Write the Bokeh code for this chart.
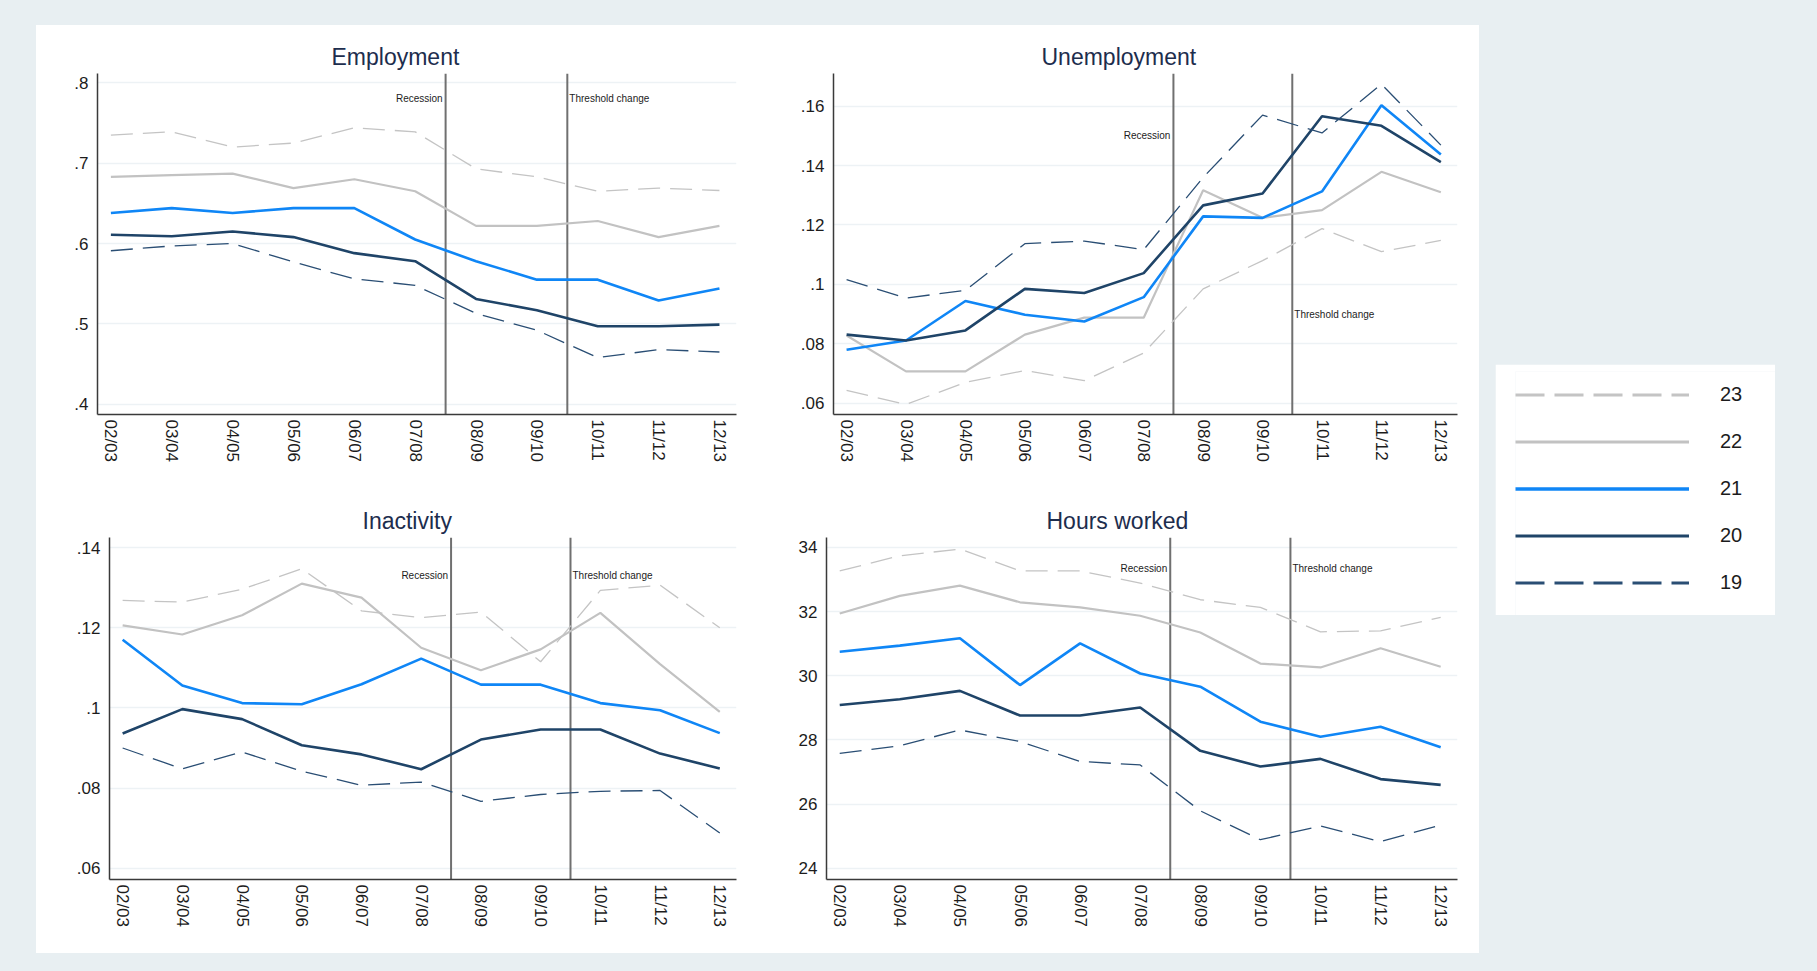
from bokeh.plotting import figure
from bokeh.layouts import column, row
from bokeh.models import (Range1d, FixedTicker, CustomJSTickFormatter, Span, Label,
                          Legend, LegendItem, Spacer)
from bokeh.embed import file_html
from bokeh.resources import INLINE

# ---------------------------------------------------------------- data
years = ["02/03", "03/04", "04/05", "05/06", "06/07", "07/08",
         "08/09", "09/10", "10/11", "11/12", "12/13"]
ages = ["23", "22", "21", "20", "19"]

# events drawn as vertical markers, placed between two survey years
recession_after = "07/08"
threshold_after = "09/10"

emp_23 = [.735, .739, .720, .725, .744, .739, .693, .683, .665, .669, .666]
emp_22 = [.683, .685, .687, .669, .680, .665, .622, .622, .628, .608, .622]
emp_21 = [.638, .644, .638, .644, .644, .605, .578, .555, .555, .529, .544]
emp_20 = [.611, .609, .615, .608, .588, .578, .531, .517, .497, .497, .499]
emp_19 = [.591, .597, .600, .577, .556, .548, .513, .492, .458, .468, .465]

unemp_23 = [.0643, .0596, .0670, .0710, .0676, .0769, .0985, .1080, .1188, .1110, .1148]
unemp_22 = [.0828, .0707, .0707, .0831, .0888, .0888, .1317, .1224, .1250, .1379, .1310]
unemp_21 = [.0780, .0811, .0944, .0898, .0875, .0957, .1229, .1224, .1313, .1603, .1437]
unemp_20 = [.0831, .0811, .0845, .0985, .0971, .1038, .1266, .1306, .1566, .1534, .1412]
unemp_19 = [.1016, .0954, .0980, .1137, .1146, .1117, .1360, .1570, .1510, .1674, .1469]

inact_23 = [.1268, .1264, .1296, .1347, .1242, .1225, .1239, .1115, .1293, .1306, .1200]
inact_22 = [.1206, .1183, .1231, .1310, .1275, .1150, .1094, .1146, .1237, .1109, .0990]
inact_21 = [.1170, .1056, .1012, .1009, .1059, .1123, .1058, .1058, .1012, .0994, .0937]
inact_20 = [.0936, .0997, .0972, .0907, .0884, .0847, .0921, .0946, .0946, .0886, .0849]
inact_19 = [.0900, .0848, .0890, .0842, .0807, .0815, .0767, .0784, .0792, .0794, .0688]

hours_23 = [33.27, 33.74, 33.95, 33.27, 33.27, 32.89, 32.37, 32.13, 31.37, 31.40, 31.82]
hours_22 = [31.94, 32.49, 32.81, 32.29, 32.13, 31.87, 31.35, 30.38, 30.26, 30.86, 30.28]
hours_21 = [30.75, 30.94, 31.17, 29.71, 31.01, 30.07, 29.66, 28.57, 28.10, 28.41, 27.77]
hours_20 = [29.09, 29.27, 29.53, 28.76, 28.76, 29.01, 27.66, 27.17, 27.41, 26.78, 26.60]
hours_19 = [27.58, 27.82, 28.31, 27.95, 27.33, 27.22, 25.79, 24.89, 25.32, 24.83, 25.35]

emp_ticks = [.4, .5, .6, .7, .8]
unemp_ticks = [.06, .08, .10, .12, .14, .16]
inact_ticks = [.06, .08, .10, .12, .14]
hours_ticks = [24, 26, 28, 30, 32, 34]

# ---------------------------------------------------------------- styles
BG = "#e8eff2"
FONT = "Liberation Sans"
TEXT = "#1c1c1c"
TITLE = "#1d2d4d"
GRID = "#edf2f5"

line_style = {
    "23": dict(line_color="#c4c4c4", line_width=1.3, line_dash="22 10"),
    "22": dict(line_color="#c2c2c2", line_width=2.2, line_dash="solid"),
    "21": dict(line_color="#0f86f6", line_width=2.6, line_dash="solid"),
    "20": dict(line_color="#1f4468", line_width=2.6, line_dash="solid"),
    "19": dict(line_color="#2a4e74", line_width=1.3, line_dash="22 10"),
}
legend_style = {
    "23": dict(line_color="#c4c4c4", line_width=3, line_dash="29 10"),
    "22": dict(line_color="#c2c2c2", line_width=3, line_dash="solid"),
    "21": dict(line_color="#0f86f6", line_width=3.5, line_dash="solid"),
    "20": dict(line_color="#1f4468", line_width=3, line_dash="solid"),
    "19": dict(line_color="#2a4e74", line_width=3, line_dash="29 10"),
}

x = list(range(len(years)))
x_rec = years.index(recession_after) + 0.5
x_thr = years.index(threshold_after) + 0.5

tick_fmt = CustomJSTickFormatter(code="""
    var s = String(Math.round(tick * 10000) / 10000);
    return s.replace(/^0\\./, '.');
""")


def make_panel(title, series, y_range, ticks, size, borders, title_offset, note_y):
    w, h = size
    left, top, right, bottom = borders
    p = figure(width=w, height=h, tools="", toolbar_location=None,
               output_backend="svg",
               x_range=Range1d(-0.22, 10.28), y_range=Range1d(*y_range),
               min_border_left=left, min_border_top=top,
               min_border_right=right, min_border_bottom=bottom,
               background_fill_color="white", border_fill_color="white",
               outline_line_color=None)

    p.title.text = title
    p.title.align = "left"
    p.title.offset = title_offset
    p.title.text_font = FONT
    p.title.text_font_size = "23px"
    p.title.text_font_style = "normal"
    p.title.text_color = TITLE
    p.title.standoff = 8

    # recession / threshold markers
    for xs in (x_rec, x_thr):
        p.add_layout(Span(location=xs, dimension="height", line_color="#707070",
                          line_width=2, level="underlay"))

    for age, ys in zip(ages, series):
        p.line(x, ys, **line_style[age])

    y_rec, y_thr = note_y
    p.add_layout(Label(x=x_rec, y=y_rec, text="Recession", text_align="right",
                       text_baseline="middle", x_offset=-3, text_font=FONT,
                       text_font_size="10px", text_color=TEXT))
    p.add_layout(Label(x=x_thr, y=y_thr, text="Threshold change", text_align="left",
                       text_baseline="middle", x_offset=2, text_font=FONT,
                       text_font_size="10px", text_color=TEXT))

    p.xgrid.visible = False
    p.ygrid.grid_line_color = GRID
    p.ygrid.grid_line_width = 1.5
    p.ygrid.ticker = FixedTicker(ticks=ticks)

    xa = p.xaxis[0]
    xa.ticker = FixedTicker(ticks=x)
    xa.major_label_overrides = {i: lab for i, lab in zip(x, years)}
    xa.major_label_orientation = "vertical"
    xa.major_label_standoff = 5
    ya = p.yaxis[0]
    ya.ticker = FixedTicker(ticks=ticks)
    ya.formatter = tick_fmt
    ya.major_label_standoff = 9
    for ax in (xa, ya):
        ax.major_tick_line_color = None
        ax.minor_tick_line_color = None
        ax.major_tick_in = 0
        ax.major_tick_out = 0
        ax.minor_tick_out = 0
        ax.axis_line_color = "#3a3a3a"
        ax.axis_line_width = 1.5
        ax.major_label_text_font = FONT
        ax.major_label_text_font_size = "17px"
        ax.major_label_text_color = TEXT
    return p


emp_series = [emp_23, emp_22, emp_21, emp_20, emp_19]
p_emp = make_panel("Employment", emp_series,
                   (.3872, .8116), emp_ticks, (724, 463), (61, 48, 24, 74),
                   234, (.78, .78))
p_unemp = make_panel("Unemployment", [unemp_23, unemp_22, unemp_21, unemp_20, unemp_19],
                     (.0562, .1710), unemp_ticks, (719, 463), (73, 48, 22, 74),
                     208, (.150, .090))
p_inact = make_panel("Inactivity", [inact_23, inact_22, inact_21, inact_20, inact_19],
                     (.0572, .1425), inact_ticks, (724, 465), (73, 49, 24, 74),
                     253, (.133, .133))
p_hours = make_panel("Hours worked", [hours_23, hours_22, hours_21, hours_20, hours_19],
                     (23.65, 34.31), hours_ticks, (719, 465), (66, 49, 22, 74),
                     220, (33.33, 33.33))

# ---------------------------------------------------------------- legend
# a separate white box holding only the key; its renderers carry the series
# but stay hidden so that only the legend swatches are shown
leg = figure(width=280, height=251, tools="", toolbar_location=None,
             output_backend="svg", x_axis_type=None, y_axis_type=None,
             x_range=Range1d(0, 1), y_range=Range1d(0, 1),
             min_border_left=20, min_border_top=7, min_border_right=0,
             min_border_bottom=0, background_fill_color="white",
             border_fill_color="white", outline_line_color=None)
items = []
for age, ys in zip(ages, emp_series):
    r = leg.line(x, ys, visible=False, **legend_style[age])
    items.append(LegendItem(label=age, renderers=[r]))
leg.add_layout(Legend(items=items, location="top_left", margin=0, padding=0,
                      spacing=0, glyph_width=174, glyph_height=47, label_height=47,
                      label_standoff=31, label_text_font=FONT,
                      label_text_font_size="20px", label_text_color=TEXT,
                      border_line_color=None, background_fill_alpha=0))

# ---------------------------------------------------------------- page
WHITE = {"background-color": "white"}
panel = column(row(p_emp, p_unemp, styles=WHITE),
               row(p_inact, p_hours, styles=WHITE), styles=WHITE)
legend_col = column(Spacer(width=280, height=339), leg, Spacer(width=280, height=338))
middle = row(Spacer(width=36, height=928), panel, Spacer(width=16, height=928),
             legend_col, Spacer(width=42, height=928))
root = column(Spacer(width=1817, height=25), middle, Spacer(width=1817, height=18),
              styles={"background-color": BG})

open("out.html", "w").write(file_html(root, INLINE))
